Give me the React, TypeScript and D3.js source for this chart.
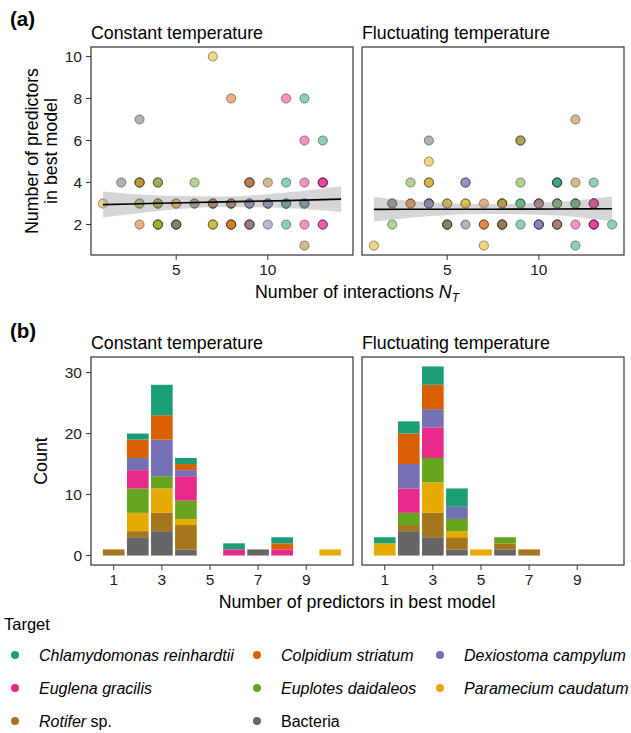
import React from 'react';
import * as d3 from 'd3';

// targets in legend / stacking order (first = top of the stack)
const targets = ['Chlamydomonas reinhardtii', 'Colpidium striatum', 'Dexiostoma campylum', 'Euglena gracilis', 'Euplotes daidaleos', 'Paramecium caudatum', 'Rotifer', 'Bacteria'];
const codes = ['C', 'O', 'D', 'G', 'E', 'P', 'R', 'B'];
const palette = ['#1B9E77', '#D95F02', '#7570B3', '#E7298A', '#66A61E', '#E6AB02', '#A6761D', '#666666'];

// (a) points: [N_T, predictors, targets stacked at that spot]
const pointsConstant: [number, number, string][] = [
  [7, 10, 'P'], [8, 8, 'O'], [11, 8, 'G'], [12, 8, 'C'], [3, 7, 'B'], [12, 6, 'G'], [13, 6, 'C'],
  [2, 4, 'B'], [3, 4, 'EPR'], [4, 4, 'RE'], [6, 4, 'E'], [9, 4, 'RDO'], [10, 4, 'R'], [11, 4, 'C'], [12, 4, 'G'], [13, 4, 'GGG'],
  [1, 3, 'P'], [3, 3, 'PE'], [4, 3, 'PER'], [5, 3, 'OP'], [6, 3, 'RB'], [7, 3, 'OOB'], [8, 3, 'ROB'], [9, 3, 'DBD'], [10, 3, 'CDD'], [11, 3, 'CDC'], [12, 3, 'CCD'],
  [3, 2, 'O'], [4, 2, 'EPE'], [5, 2, 'BEB'], [7, 2, 'EP'], [8, 2, 'PRO'], [9, 2, 'BOD'], [10, 2, 'D'], [11, 2, 'C'], [12, 2, 'G'], [13, 2, 'GG'],
  [12, 1, 'R'],
];
const pointsFluct: [number, number, string][] = [
  [12, 7, 'R'], [4, 6, 'B'], [9, 6, 'ER'], [4, 5, 'P'],
  [3, 4, 'E'], [4, 4, 'RP'], [6, 4, 'DD'], [9, 4, 'E'], [11, 4, 'BCC'], [12, 4, 'R'], [13, 4, 'C'],
  [2, 3, 'BB'], [3, 3, 'OO'], [4, 3, 'DBD'], [5, 3, 'RP'], [6, 3, 'PP'], [7, 3, 'O'], [8, 3, 'EPR'], [9, 3, 'EC'], [10, 3, 'ROD'], [11, 3, 'EPC'], [12, 3, 'REC'], [13, 3, 'GGGGG'],
  [2, 2, 'E'], [5, 2, 'BEB'], [6, 2, 'B'], [7, 2, 'OO'], [8, 2, 'ORB'], [9, 2, 'C'], [10, 2, 'DDD'], [11, 2, 'OOD'], [12, 2, 'G'], [13, 2, 'GGG'], [14, 2, 'C'],
  [1, 1, 'P'], [7, 1, 'P'], [12, 1, 'C'],
];

// linear fit + confidence band: [x, fit, lower, upper]
const fitConstant = [[1, 2.95, 2.33, 3.57], [4, 3.01, 2.64, 3.38], [7.5, 3.08, 2.83, 3.33], [11, 3.14, 2.78, 3.52], [14, 3.21, 2.6, 3.82]];
const fitFluct = [[1, 2.72, 2.14, 3.32], [4, 2.73, 2.4, 3.06], [7.5, 2.73, 2.5, 2.97], [11, 2.74, 2.43, 3.08], [14, 2.75, 2.16, 3.34]];

// (b) counts per number of predictors, columns in `targets` order
const barsConstant: [number, number[]][] = [
  [1, [0, 0, 0, 0, 0, 0, 1, 0]],
  [2, [1, 3, 2, 3, 4, 3, 1, 3]],
  [3, [5, 4, 6, 0, 2, 4, 3, 4]],
  [4, [1, 1, 1, 4, 3, 1, 4, 1]],
  [6, [1, 0, 0, 1, 0, 0, 0, 0]],
  [7, [0, 0, 0, 0, 0, 0, 0, 1]],
  [8, [1, 1, 0, 1, 0, 0, 0, 0]],
  [10, [0, 0, 0, 0, 0, 1, 0, 0]],
];
const barsFluct: [number, number[]][] = [
  [1, [1, 0, 0, 0, 0, 2, 0, 0]],
  [2, [2, 5, 4, 4, 2, 0, 1, 4]],
  [3, [3, 4, 3, 5, 4, 5, 4, 3]],
  [4, [3, 0, 2, 0, 2, 1, 2, 1]],
  [5, [0, 0, 0, 0, 0, 1, 0, 0]],
  [6, [0, 0, 0, 0, 1, 0, 1, 1]],
  [7, [0, 0, 0, 0, 0, 0, 1, 0]],
];

const panelTitles = ['Constant temperature', 'Fluctuating temperature'];
const yTicksA = [2, 4, 6, 8, 10];
const xTicksA = [5, 10];
const yTicksB = [0, 10, 20, 30];
const xTicksB = [1, 3, 5, 7, 9];

const FONT = 'Liberation Sans, Arial, Helvetica, sans-serif';
const panelX = [91, 362];
const PW = 262;
const PH = 208;
const topA = 47;
const topB = 357;
const frame = '#333333';
const tickCol = '#1a1a1a';

const xA = d3.scaleLinear().domain([0.35, 14.65]).range([0, PW]);
const yA = d3.scaleLinear().domain([0.55, 10.45]).range([PH, 0]);
const xB = d3.scaleLinear().domain([0.055, 10.945]).range([0, PW]);
const yB = d3.scaleLinear().domain([-1.55, 32.55]).range([PH, 0]);

const ScatterPanel = ({ x0, points, fit, title }: { x0: number; points: [number, number, string][]; fit: number[][]; title: string }) => {
  const area = d3.area<number[]>().x(d => xA(d[0])).y0(d => yA(d[2])).y1(d => yA(d[3])).curve(d3.curveMonotoneX);
  const line = d3.line<number[]>().x(d => xA(d[0])).y(d => yA(d[1])).curve(d3.curveMonotoneX);
  return (
    <g transform={`translate(${x0},${topA})`}>
      <text x={0} y={-8} fontSize={17.8} fill="#000">{title}</text>
      {points.map(([px, py, t], i) =>
        t.split('').map((c, j) => (
          <circle key={`${i}-${j}`} cx={xA(px)} cy={yA(py)} r={4.6}
            fill={palette[codes.indexOf(c)]} fillOpacity={0.5}
            stroke="#000" strokeOpacity={0.45} strokeWidth={0.9} />
        ))
      )}
      <path d={area(fit) || ''} fill="#999999" fillOpacity={0.4} />
      <path d={line(fit) || ''} fill="none" stroke="#000" strokeWidth={1.6} />
      <rect x={0} y={0} width={PW} height={PH} fill="none" stroke={frame} strokeWidth={1.2} />
      {xTicksA.map(t => (
        <g key={t} transform={`translate(${xA(t)},${PH})`}>
          <line y1={0} y2={5} stroke={frame} />
          <text y={20} textAnchor="middle" fontSize={15.5} fill={tickCol}>{t}</text>
        </g>
      ))}
    </g>
  );
};

const BarPanel = ({ x0, bars, title }: { x0: number; bars: [number, number[]][]; title: string }) => {
  const bw = xB(0.9) - xB(0);
  const segs: { x: number; y0: number; y1: number; k: number }[] = [];
  bars.forEach(([bx, counts]) => {
    let acc = 0;
    for (let k = counts.length - 1; k >= 0; k--) {
      if (counts[k] > 0) {
        segs.push({ x: bx, y0: acc, y1: acc + counts[k], k });
        acc += counts[k];
      }
    }
  });
  return (
    <g transform={`translate(${x0},${topB})`}>
      <text x={0} y={-8} fontSize={17.8} fill="#000">{title}</text>
      {segs.map((s, i) => (
        <rect key={i} x={xB(s.x) - bw / 2} width={bw} y={yB(s.y1)} height={yB(s.y0) - yB(s.y1)} fill={palette[s.k]} />
      ))}
      <rect x={0} y={0} width={PW} height={PH} fill="none" stroke={frame} strokeWidth={1.2} />
      {xTicksB.map(t => (
        <g key={t} transform={`translate(${xB(t)},${PH})`}>
          <line y1={0} y2={5} stroke={frame} />
          <text y={20} textAnchor="middle" fontSize={15.5} fill={tickCol}>{t}</text>
        </g>
      ))}
    </g>
  );
};

const legendCols = [15, 257, 440];
const legendRows = [655, 688, 721];

export default function App() {
  return (
    <svg width={631} height={733} style={{ position: 'absolute', left: 0, top: 0, background: '#fff' }} fontFamily={FONT}>
      <text x={10} y={26} fontSize={20.5} fontWeight="bold">(a)</text>
      <text x={10} y={338} fontSize={20.5} fontWeight="bold">(b)</text>

      {/* (a) */}
      <g transform={`translate(${panelX[0]},${topA})`}>
        {yTicksA.map(t => (
          <g key={t} transform={`translate(0,${yA(t)})`}>
            <line x1={-5} x2={0} stroke={frame} />
            <text x={-9} dy="0.35em" textAnchor="end" fontSize={15.5} fill={tickCol}>{t}</text>
          </g>
        ))}
      </g>
      <text transform={`translate(38,${topA + PH / 2}) rotate(-90)`} textAnchor="middle" fontSize={17.8}>Number of predictors</text>
      <text transform={`translate(57,${topA + PH / 2}) rotate(-90)`} textAnchor="middle" fontSize={17.8}>in best model</text>
      <ScatterPanel x0={panelX[0]} points={pointsConstant} fit={fitConstant} title={panelTitles[0]} />
      <ScatterPanel x0={panelX[1]} points={pointsFluct} fit={fitFluct} title={panelTitles[1]} />
      <text x={357} y={298} textAnchor="middle" fontSize={17.8}>
        Number of interactions <tspan fontStyle="italic">N</tspan><tspan fontStyle="italic" fontSize={12} dy={4}>T</tspan>
      </text>

      {/* (b) */}
      <g transform={`translate(${panelX[0]},${topB})`}>
        {yTicksB.map(t => (
          <g key={t} transform={`translate(0,${yB(t)})`}>
            <line x1={-5} x2={0} stroke={frame} />
            <text x={-9} dy="0.35em" textAnchor="end" fontSize={15.5} fill={tickCol}>{t}</text>
          </g>
        ))}
      </g>
      <text transform={`translate(47,${topB + PH / 2}) rotate(-90)`} textAnchor="middle" fontSize={17.8}>Count</text>
      <BarPanel x0={panelX[0]} bars={barsConstant} title={panelTitles[0]} />
      <BarPanel x0={panelX[1]} bars={barsFluct} title={panelTitles[1]} />
      <text x={357} y={608} textAnchor="middle" fontSize={17.8}>Number of predictors in best model</text>

      {/* legend */}
      <text x={4} y={630} fontSize={16.5}>Target</text>
      {targets.map((name, i) => {
        const cx = legendCols[i % 3];
        const cy = legendRows[Math.floor(i / 3)];
        return (
          <g key={name}>
            <circle cx={cx} cy={cy} r={4} fill={palette[i]} />
            <text x={cx + 24} y={cy} dy="0.35em" fontSize={16}>
              {name === 'Bacteria' ? name : <tspan fontStyle="italic">{name}</tspan>}
              {name === 'Rotifer' ? ' sp.' : null}
            </text>
          </g>
        );
      })}
    </svg>
  );
}
